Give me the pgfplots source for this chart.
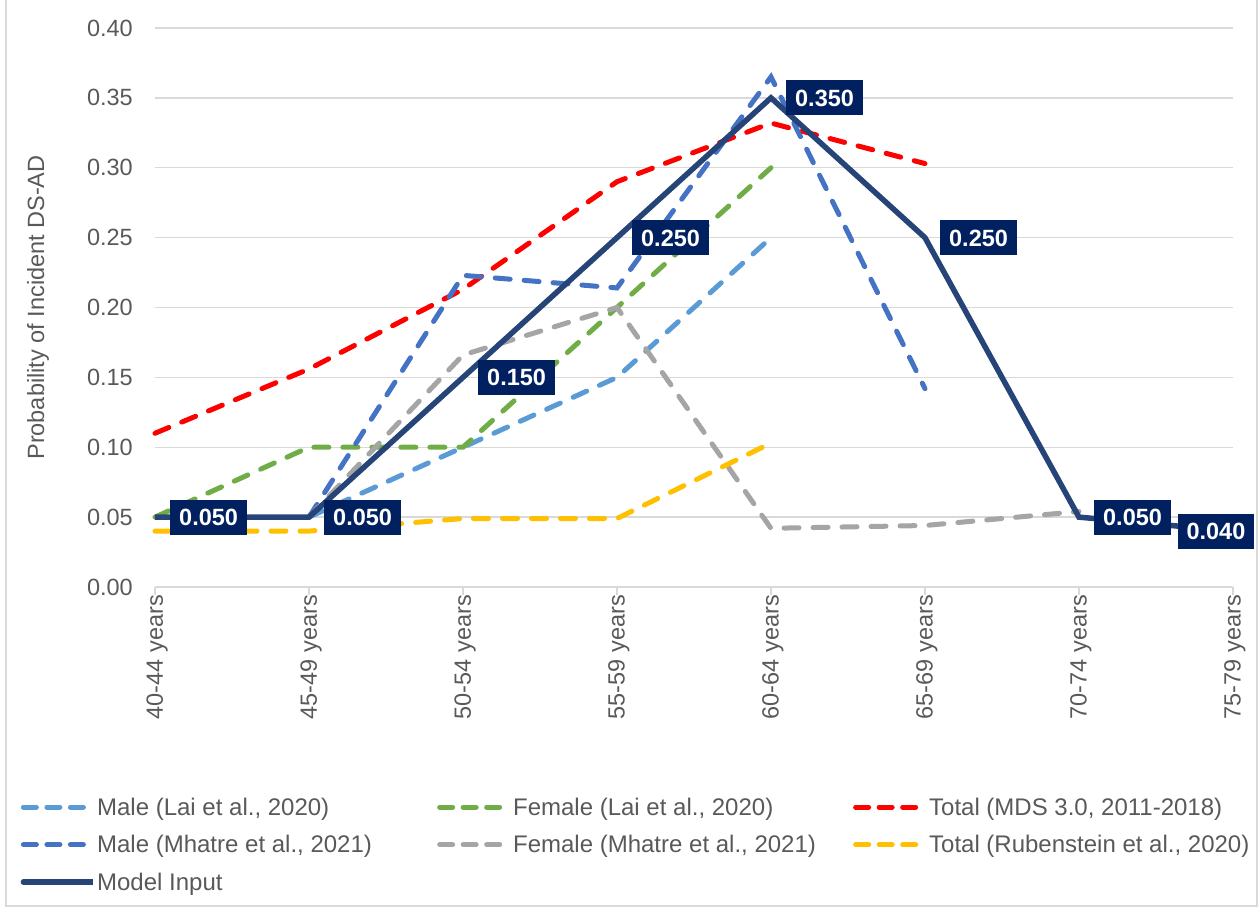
\documentclass[border=0pt]{standalone}
\usepackage{fontspec}
\setmainfont{Liberation Sans}
\usepackage{pgfplots}
\pgfplotsset{compat=1.18}
\definecolor{lblue}{HTML}{5B9BD5}
\definecolor{lgreen}{HTML}{70AD47}
\definecolor{lred}{HTML}{FF0000}
\definecolor{dblue}{HTML}{4472C4}
\definecolor{lgray}{HTML}{A5A5A5}
\definecolor{lgold}{HTML}{FFC000}
\definecolor{model}{HTML}{264478}
\definecolor{navy}{HTML}{002060}
\definecolor{gridgray}{HTML}{D9D9D9}
\definecolor{textgray}{HTML}{595959}
\newcommand{\fs}{\fontsize{23.5}{28}\selectfont}
\newcommand{\fl}{\fontsize{24}{28}\selectfont}
\pgfplotsset{
  modelleg/.style={legend image code/.code={\draw[##1, line cap=round] (0pt,0pt) -- (62pt,0pt); \draw[##1, overlay] (60pt,0pt) -- (70pt,0pt);}},
  dashleg/.style={legend image code/.code={\draw[##1, dash pattern=on 13pt off 10.5pt] (0pt,0pt) -- (62pt,0pt);}},
}
\begin{document}
\begin{tikzpicture}
\useasboundingbox (-155pt,-322pt) rectangle (1104pt,587pt);
\draw[gridgray, line width=1.3pt] (-149pt,587pt) -- (-149pt,-319pt) -- (1102pt,-319pt) -- (1102pt,587pt);
\begin{axis}[
  at={(0pt,0pt)}, anchor=south west,
  scale only axis, width=1078pt, height=559pt,
  xmin=0, xmax=7, ymin=0, ymax=0.4,
  clip=false,
  axis x line*=bottom, axis y line*=left,
  x axis line style={-, gridgray, line width=1.3pt},
  y axis line style={draw=none},
  xtick={0,1,2,3,4,5,6,7},
  xticklabels={40-44 years,45-49 years,50-54 years,55-59 years,60-64 years,65-69 years,70-74 years,75-79 years},
  ytick={0,0.05,0.1,0.15,0.2,0.25,0.3,0.35,0.4},
  ymajorgrids,
  major grid style={gridgray, line width=1.3pt},
  tick align=outside, major tick length=8pt,
  xtick style={gridgray, line width=1.3pt},
  ytick style={draw=none},
  tick label style={font=\fs, text=textgray},
  /pgf/number format/assume math mode=true,
  yticklabel style={/pgf/number format/.cd, fixed, fixed zerofill, precision=2, /tikz/.cd, anchor=east, inner sep=0pt, xshift=-14pt},
  xticklabel style={rotate=90, anchor=east, inner sep=0pt, yshift=-2pt},
  ylabel={Probability of Incident DS-AD},
  every axis y label/.style={at={(axis description cs:0,0.5)}, xshift=-117pt, rotate=90, anchor=center, font=\fs, text=textgray},
  legend columns=3,
  legend cell align=left,
  legend style={at={(axis description cs:-0.1276,-0.3685)}, anchor=north west, draw=none, fill=none, font=\fl, text=textgray, row sep=13.5pt, nodes={inner xsep=9pt, inner ysep=0pt, text height=20pt, text depth=4pt}},
  dashleg,
  dsh/.style={line width=5pt, line cap=round, dash pattern=on 15pt off 14pt},
]
\addplot[dsh, lblue] coordinates {(1,0.05) (2,0.10) (3,0.15) (4,0.25)};
\addlegendentry{\makebox[331pt][l]{Male (Lai et al., 2020)}}
\addplot[dsh, lgreen] coordinates {(0,0.05) (1,0.10) (2,0.10) (3,0.20) (4,0.30)};
\addlegendentry{\makebox[331pt][l]{Female (Lai et al., 2020)}}
\addplot[dsh, lred] coordinates {(0,0.110) (1,0.156) (2,0.213) (3,0.290) (4,0.332) (5,0.303)};
\addlegendentry{\makebox[331pt][l]{Total (MDS 3.0, 2011-2018)}}
\addplot[dsh, dblue] coordinates {(1,0.05) (2,0.223) (3,0.214) (4,0.365) (5,0.142)};
\addlegendentry{\makebox[331pt][l]{Male (Mhatre et al., 2021)}}
\addplot[dsh, lgray] coordinates {(1,0.05) (2,0.166) (3,0.200) (4,0.042) (5,0.044) (6,0.054)};
\addlegendentry{\makebox[331pt][l]{Female (Mhatre et al., 2021)}}
\addplot[dsh, lgold] coordinates {(0,0.04) (1,0.04) (2,0.049) (3,0.049) (4,0.103)};
\addlegendentry{\makebox[331pt][l]{Total (Rubenstein et al., 2020)}}
\addplot[model, line width=5.5pt, line join=miter, modelleg]
  coordinates {(0,0.05) (1,0.05) (2,0.15) (3,0.25) (4,0.35) (5,0.25) (6,0.05) (7,0.04)};
\addlegendentry{Model Input}
% data labels
\addplot[draw=none, forget plot, point meta=y,
  nodes near coords={\pgfmathprintnumber[fixed,fixed zerofill,precision=3,assume math mode=true]{\pgfplotspointmeta}},
  every node near coord/.style={anchor=west, xshift=15pt, fill=navy, text=white, font=\fs\bfseries, inner xsep=9pt, inner ysep=9pt, text height=17pt, text depth=0pt}]
  coordinates {(0,0.05) (1,0.05) (2,0.15) (3,0.25) (4,0.35) (5,0.25) (6,0.05)};
\addplot[draw=none, forget plot, point meta=y,
  nodes near coords={\pgfmathprintnumber[fixed,fixed zerofill,precision=3,assume math mode=true]{\pgfplotspointmeta}},
  every node near coord/.style={anchor=center, xshift=-17pt, fill=navy, text=white, font=\fs\bfseries, inner xsep=9pt, inner ysep=9pt, text height=17pt, text depth=0pt}]
  coordinates {(7,0.04)};
\end{axis}
\end{tikzpicture}
\end{document}
